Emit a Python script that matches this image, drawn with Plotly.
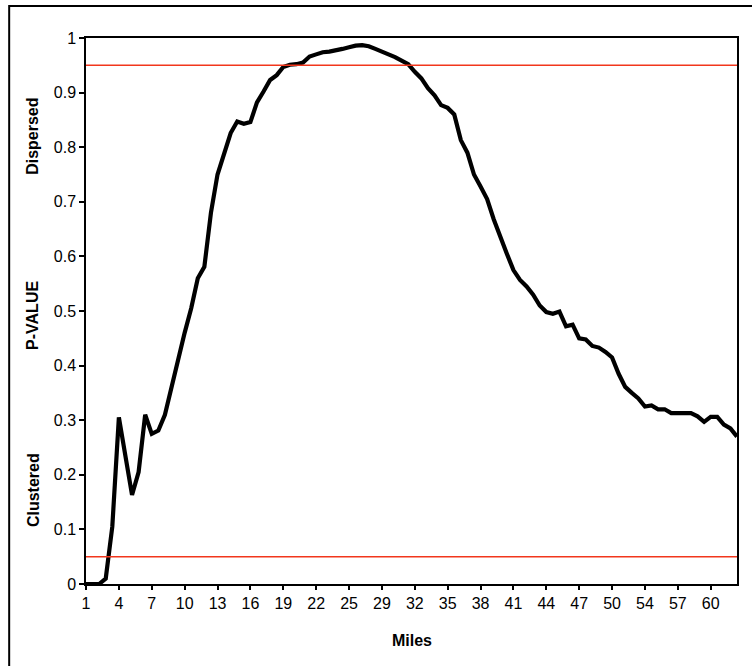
import plotly.graph_objects as go

# P-value of the spatial statistic at each distance band (100 bands)
p_values = [
    0.0, 0.0, 0.0, 0.01, 0.105, 0.305, 0.235, 0.163, 0.205, 0.31,
    0.275, 0.281, 0.31, 0.36, 0.415, 0.46, 0.505, 0.56, 0.581, 0.68,
    0.75, 0.79, 0.826, 0.847, 0.843, 0.846, 0.882, 0.902, 0.923, 0.932,
    0.947, 0.951, 0.952, 0.955, 0.966, 0.970, 0.974, 0.975, 0.977, 0.980,
    0.983, 0.986, 0.987, 0.985, 0.980, 0.976, 0.970, 0.965, 0.958, 0.952,
    0.938, 0.926, 0.908, 0.895, 0.877, 0.872, 0.86, 0.813, 0.79, 0.75,
    0.728, 0.705, 0.668, 0.635, 0.605, 0.575, 0.557, 0.545, 0.53, 0.51,
    0.498, 0.495, 0.499, 0.472, 0.475, 0.45, 0.448, 0.436, 0.433, 0.425,
    0.415, 0.385, 0.361, 0.35, 0.34, 0.325, 0.327, 0.32, 0.32, 0.313,
    0.313, 0.313, 0.313, 0.307, 0.297, 0.306, 0.306, 0.292, 0.285, 0.27,
]

# Mileage labels shown on every fifth distance band
mile_labels = ["1", "4", "7", "10", "13", "16", "19", "22", "25", "29",
               "32", "35", "38", "41", "44", "47", "50", "54", "57", "60"]
label_step = 5

# Significance thresholds
upper_threshold = 0.95
lower_threshold = 0.05

band_index = list(range(len(p_values)))
tick_positions = band_index[::label_step][:len(mile_labels)]

FONT = "Liberation Sans, Arial, sans-serif"

fig = go.Figure()
fig.add_trace(go.Scatter(
    x=band_index, y=p_values, mode="lines",
    line=dict(color="black", width=4.2),
    hoverinfo="skip", showlegend=False,
))

for level in (upper_threshold, lower_threshold):
    fig.add_shape(type="line", xref="paper", yref="y",
                  x0=0, x1=1, y0=level, y1=level,
                  line=dict(color="#f2361c", width=1.6))

# Outer chart frame
fig.add_shape(type="rect", xref="paper", yref="paper",
              x0=-0.118, x1=1.05, y0=-0.2, y1=1.0586,
              line=dict(color="black", width=2), layer="below")

fig.update_layout(
    width=752, height=666,
    margin=dict(l=86, r=15, t=38, b=82),
    paper_bgcolor="white", plot_bgcolor="white",
    font=dict(family=FONT, size=16, color="black"),
    xaxis=dict(
        range=[0, len(p_values) - 1],
        tickmode="array", tickvals=tick_positions, ticktext=mile_labels,
        ticks="outside", ticklen=4, tickwidth=1.5, tickcolor="black",
        showline=True, linecolor="black", linewidth=1.5, mirror=True,
        showgrid=False, zeroline=False,
        tickfont=dict(family=FONT, size=16, color="black"),
    ),
    yaxis=dict(
        range=[0, 1], dtick=0.1, tick0=0,
        ticks="outside", ticklen=5, tickwidth=1.5, tickcolor="black",
        showline=True, linecolor="black", linewidth=1.5, mirror=True,
        showgrid=False, zeroline=False,
        tickfont=dict(family=FONT, size=16, color="black"),
    ),
)

side_titles = [("Dispersed", 0.819), ("P-VALUE", 0.491), ("Clustered", 0.172)]
for text, ypos in side_titles:
    fig.add_annotation(text=f"<b>{text}</b>", xref="paper", yref="paper",
                       x=-0.0814, y=ypos, textangle=-90, showarrow=False,
                       xanchor="center", yanchor="middle",
                       font=dict(family=FONT, size=16, color="black"))

fig.add_annotation(text="<b>Miles</b>", xref="paper", yref="paper",
                   x=0.5, y=-0.103, showarrow=False,
                   xanchor="center", yanchor="middle",
                   font=dict(family=FONT, size=16, color="black"))

fig.write_html("out.html")
